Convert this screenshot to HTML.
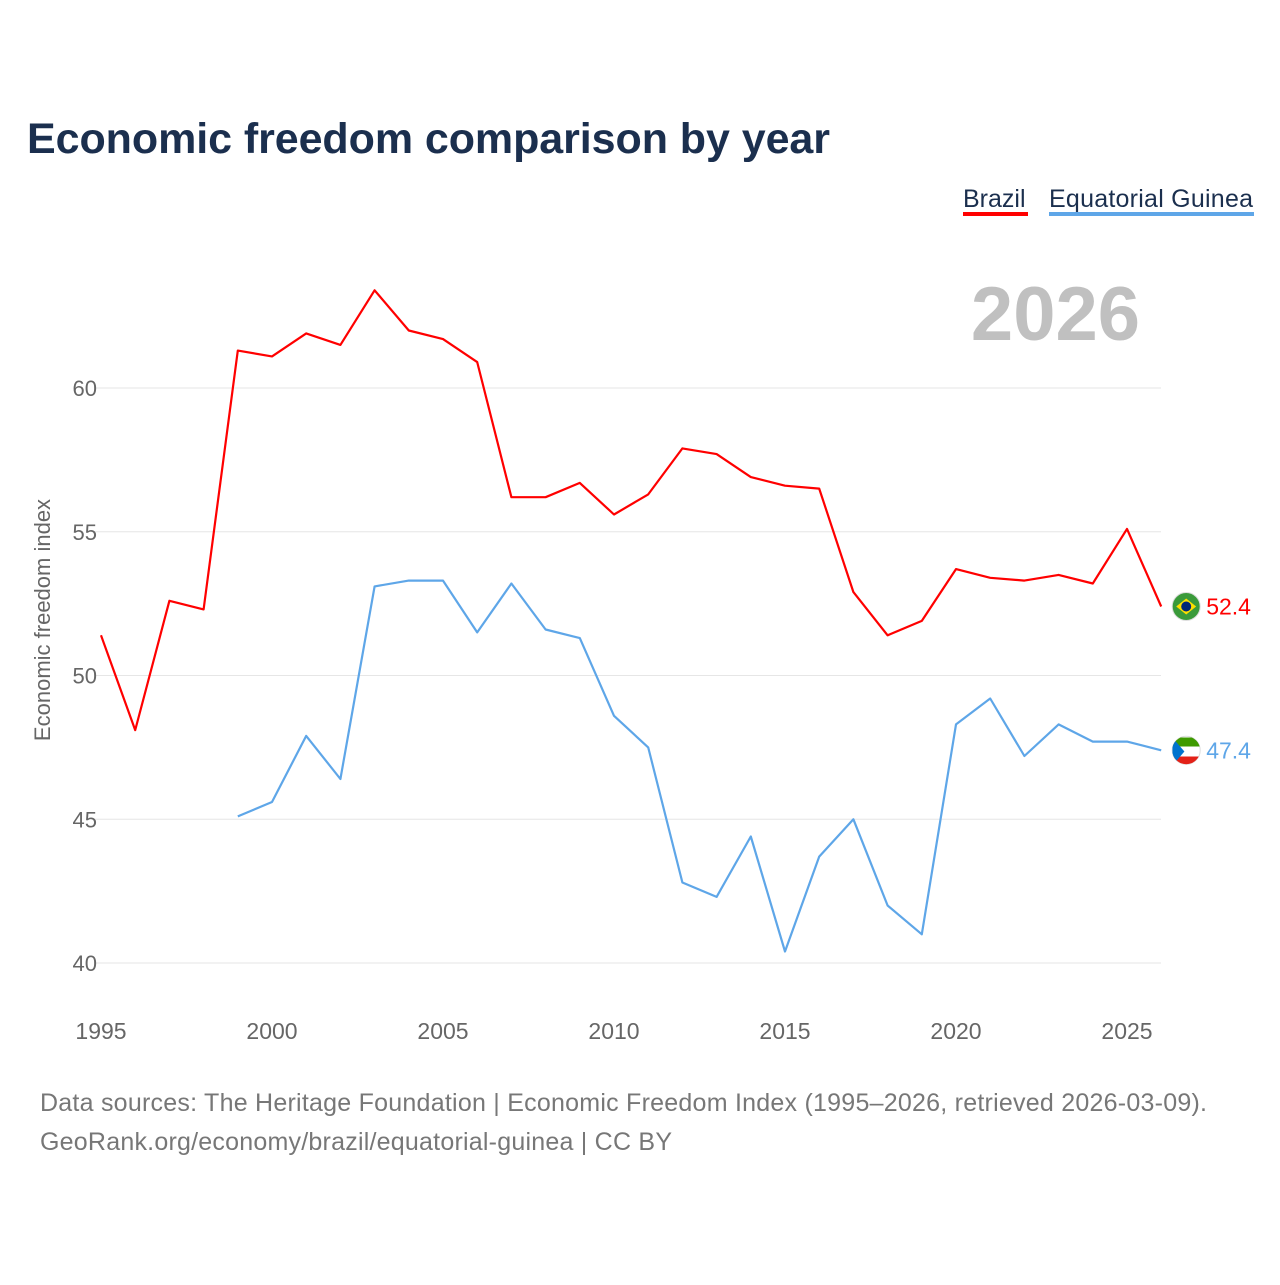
<!DOCTYPE html>
<html><head><meta charset="utf-8"><style>
body{margin:0;background:#fff;font-family:"Liberation Sans",sans-serif}
</style></head><body>
<svg width="1280" height="1280" viewBox="0 0 1280 1280" xmlns="http://www.w3.org/2000/svg">
<defs><clipPath id="egclip"><circle cx="1186" cy="749" r="14"/></clipPath></defs>
<rect width="1280" height="1280" fill="#fff"/>
<text x="27" y="153" font-size="43" font-weight="bold" fill="#1b2f4e" textLength="803">Economic freedom comparison by year</text>
<g><text x="963" y="207" font-size="25" fill="#1b2f4e">Brazil</text><rect x="963" y="212" width="65" height="4" fill="#f00"/></g>
<g><text x="1049" y="207" font-size="25" fill="#1b2f4e" textLength="204">Equatorial Guinea</text><rect x="1049" y="212" width="205" height="4" fill="#5ea6e8"/></g>
<text x="1140" y="340" font-size="76" font-weight="bold" fill="#c0c0c0" text-anchor="end">2026</text>
<text transform="translate(50,620) rotate(-90)" font-size="22" fill="#666" text-anchor="middle">Economic freedom index</text>
<g id="grid"></g><g id="lines"></g>
<text x="40" y="1111" font-size="25" fill="#777" textLength="1167">Data sources: The Heritage Foundation | Economic Freedom Index (1995–2026, retrieved 2026-03-09).</text>
<text x="40" y="1150" font-size="25" fill="#777" textLength="632">GeoRank.org/economy/brazil/equatorial-guinea | CC BY</text>
</svg>
<script>
const years=[1995,1996,1997,1998,1999,2000,2001,2002,2003,2004,2005,2006,2007,2008,2009,2010,2011,2012,2013,2014,2015,2016,2017,2018,2019,2020,2021,2022,2023,2024,2025,2026];
const brazil=[51.4,48.1,52.6,52.3,61.3,61.1,61.9,61.5,63.4,62.0,61.7,60.9,56.2,56.2,56.7,55.6,56.3,57.9,57.7,56.9,56.6,56.5,52.9,51.4,51.9,53.7,53.4,53.3,53.5,53.2,55.1,52.4];
const guinea=[null,null,null,null,45.1,45.6,47.9,46.4,53.1,53.3,53.3,51.5,53.2,51.6,51.3,48.6,47.5,42.8,42.3,44.4,40.4,43.7,45.0,42.0,41.0,48.3,49.2,47.2,48.3,47.7,47.7,47.4];
const yTicks=[40,45,50,55,60];
const xTicks=[1995,2000,2005,2010,2015,2020,2025];
const NS="http://www.w3.org/2000/svg";
const X=y=>101+(y-1995)*34.2;
const Y=v=>388+(60-v)*28.75;
const grid=document.getElementById('grid'),lines=document.getElementById('lines');
function mk(tag,attrs,parent,txt){const e=document.createElementNS(NS,tag);for(const k in attrs)e.setAttribute(k,attrs[k]);if(txt!=null)e.textContent=txt;parent.appendChild(e);return e;}
yTicks.forEach(t=>{
 const l=mk('line',{x1:95,x2:1161,y1:Y(t),y2:Y(t),stroke:'#e6e6e6','stroke-width':1},grid);
 
 
 const tx=mk('text',{x:97,y:Y(t)+8,'font-size':22,fill:'#666','text-anchor':'end'},grid,t);
 
 
});
xTicks.forEach(t=>{
 const tx=mk('text',{x:X(t),y:1039,'font-size':23,fill:'#666','text-anchor':'middle'},grid,t);
 
 
});
function series(vals,color,name){
 let d='';vals.forEach((v,i)=>{if(v==null)return;d+=(d?'L':'M')+X(years[i]).toFixed(1)+','+Y(v).toFixed(1);});
 const p=mk('path',{d:d,fill:'none',stroke:color,'stroke-width':2.2,'stroke-linejoin':'round'},lines);
 
 
 const last=vals[vals.length-1];
 const cx=X(years[years.length-1])+25, cy=Y(last);
 const c=mk('circle',{cx:cx,cy:cy,r:14,fill:color==='#f00'?'#3a9a3a':'#fff',stroke:'#ddd'},lines);
 
 
 if(color==='#f00'){mk('polygon',{points:`${cx-10},${cy} ${cx},${cy-8} ${cx+10},${cy} ${cx},${cy+8}`,fill:'#fedf00'},lines);mk('circle',{cx:cx,cy:cy,r:5,fill:'#002776'},lines);}
 else{const g=mk('g',{'clip-path':'url(#egclip)',transform:`translate(${cx-1186},${cy-749})`},lines);mk('rect',{x:cx-14,y:cy-14,width:28,height:9,fill:'#3e9a00'},g);mk('rect',{x:cx-14,y:cy+5,width:28,height:9,fill:'#e32118'},g);mk('polygon',{points:`${cx-14},${cy-14} ${cx-2},${cy} ${cx-14},${cy+14}`,fill:'#0073ce'},g);}
 const lt=mk('text',{x:cx+20,y:cy+8,'font-size':23,fill:color},lines,last.toFixed(1));
 
 
}
series(brazil,'#f00','brazil');
series(guinea,'#5ea6e8','equatorial-guinea');
</script>
</body></html>
